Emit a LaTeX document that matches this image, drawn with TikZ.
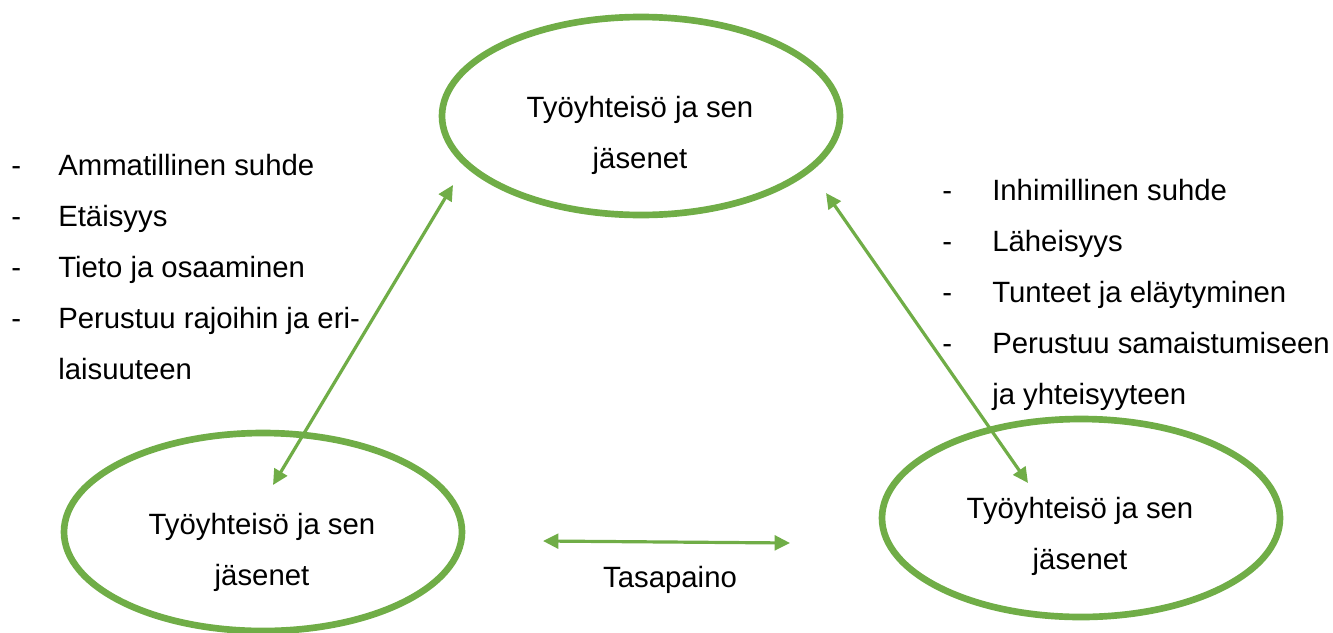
\documentclass[tikz,border=0pt]{standalone}
\usepackage{fontspec}
\setmainfont{Liberation Sans}
\usetikzlibrary{arrows.meta,shapes.geometric}
\definecolor{grn}{HTML}{70AD47}
\begin{document}
\begin{tikzpicture}[x=0.75pt,y=-0.75pt,
  ring/.style={draw=grn,line width=5pt,ellipse,minimum width=298.5pt,minimum height=148.5pt,inner sep=0pt,outer sep=0pt},
  lbl/.style={font=\fontsize{22}{38.25}\selectfont,align=center,inner sep=0pt},
  item/.style={font=\fontsize{22}{26}\selectfont,anchor=base west,inner sep=0pt},
  link/.style={draw=grn,line width=2.4pt,{Triangle[length=11.5pt,width=11pt]}-{Triangle[length=11.5pt,width=11pt]}}]
\useasboundingbox (0,0) rectangle (1333,632);
% ellipses
\node[ring] (top) at (641,116) {};
\node[ring] (bl) at (263,532) {};
\node[ring] (br) at (1081,518) {};
\node[lbl] (toptext) at (640,135) {Työyhteisö ja sen\\jäsenet};
\node[lbl] (bltext) at (262,552) {Työyhteisö ja sen\\jäsenet};
\node[lbl] (brtext) at (1080,536) {Työyhteisö ja sen\\jäsenet};
% left list
\node[item] (l1) at (11,175) {\makebox[35.25pt][l]{-}Ammatillinen suhde};
\node[item] (l2) at (11,226) {\makebox[35.25pt][l]{-}Etäisyys};
\node[item] (l3) at (11,277) {\makebox[35.25pt][l]{-}Tieto ja osaaminen};
\node[item] (l4) at (11,328) {\makebox[35.25pt][l]{-}Perustuu rajoihin ja eri-};
\node[item] (l5) at (58,379) {laisuuteen};
% right list
\node[item] (r1) at (942,200) {\makebox[37.5pt][l]{-}Inhimillinen suhde};
\node[item] (r2) at (942,251) {\makebox[37.5pt][l]{-}Läheisyys};
\node[item] (r3) at (942,302) {\makebox[37.5pt][l]{-}Tunteet ja eläytyminen};
\node[item] (r4) at (942,353) {\makebox[37.5pt][l]{-}Perustuu samaistumiseen};
\node[item] (r5) at (992,404) {ja yhteisyyteen};
% arrows
\coordinate (la) at (453,185);
\coordinate (lb) at (273,485);
\coordinate (ra) at (826,193);
\coordinate (rb) at (1028,483);
\coordinate (ha) at (543,541);
\coordinate (hb) at (790,543);
\draw[link] (la) -- (lb);
\draw[link] (ra) -- (rb);
\draw[link] (ha) -- (hb);
\node[item,anchor=base] (tasa) at (670,587) {Tasapaino};
\end{tikzpicture}
\end{document}
